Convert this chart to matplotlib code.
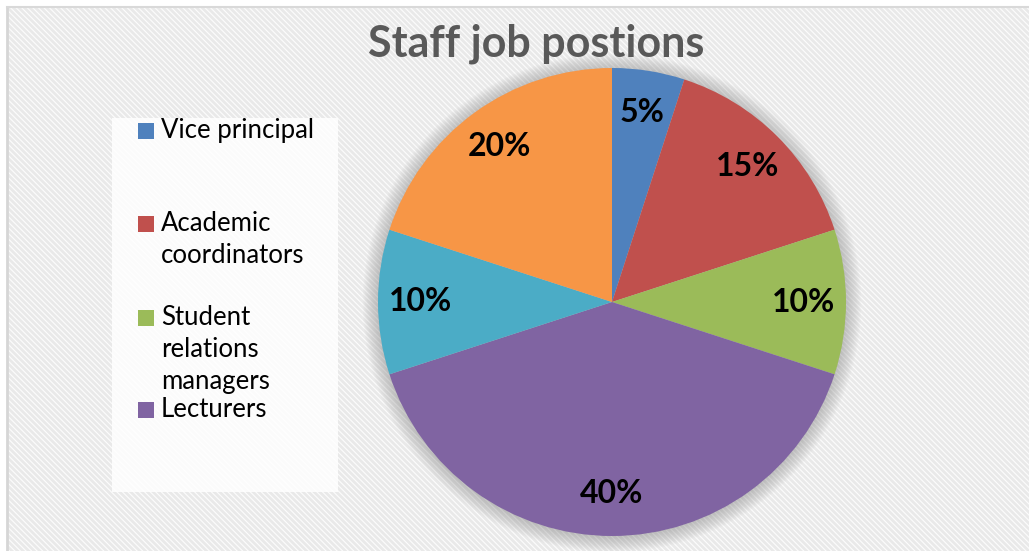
import numpy as np
import matplotlib.pyplot as plt
from matplotlib.patches import Rectangle, Circle
from matplotlib.lines import Line2D

plt.rcParams['font.family'] = ['Lato', 'DejaVu Sans']
plt.rcParams['hatch.color'] = '#e9e9e9'
plt.rcParams['hatch.linewidth'] = 2.0

# Staff job positions (share of staff, %)
legend_labels = ["Vice principal", "Academic\ncoordinators",
                 "Student\nrelations\nmanagers", "Lecturers"]
shares = [5, 15, 10, 40, 10, 20]
colors = ["#4f81bd", "#c0504d", "#9bbb59", "#8064a2", "#4bacc6", "#f79646"]

W, H = 1029, 551
fig = plt.figure(figsize=(W / 100, H / 100), dpi=100)
fig.patch.set_facecolor("white")

# striped chart-area background
bg = Rectangle((7 / W, 0), 1, 1 - 7 / H, transform=fig.transFigure,
               facecolor="#fcfcfc", edgecolor="#e9e9e9", hatch="\\" * 6,
               linewidth=0, zorder=-10)
fig.patches.append(bg)
fig.add_artist(Line2D([7 / W, 7 / W], [0, 1 - 7 / H], color="#d6d6d6", lw=2))
fig.add_artist(Line2D([7 / W, 1], [1 - 7 / H, 1 - 7 / H], color="#d9d9d9", lw=1.5))

# pie axes, centred at (612, 302) px with radius 234 px
cx, cy, r = 612, 302, 234
pad = 1.12
ax = fig.add_axes([(cx - r * pad) / W, (H - cy - r * pad) / H,
                   2 * r * pad / W, 2 * r * pad / H])

wedges, texts = ax.pie(shares, colors=colors, startangle=90, counterclock=False,
                       radius=1, wedgeprops=dict(linewidth=0))
ax.set_xlim(-pad, pad)
ax.set_ylim(-pad, pad)
ax.set_aspect("equal")
ax.axis("off")

# soft shadow around the pie
for k in range(14):
    ax.add_patch(Circle((0, -0.004), 1 + 0.005 * k, color="#808080",
                        alpha=0.035, lw=0, zorder=0))

for w, s in zip(wedges, shares):
    w.set_zorder(2)
    mid = np.deg2rad((w.theta1 + w.theta2) / 2)
    d = 0.82
    ax.text(d * np.cos(mid), d * np.sin(mid), f"{s}%", ha="center", va="center",
            fontsize=23, fontweight="bold", color="black", zorder=3)

# title
fig.text(536 / W, 1 - 44 / H, "Staff job postions", ha="center", va="center",
         fontsize=31, fontweight="bold", color="#595959")

# legend box with the first four categories
fig.patches.append(Rectangle((112 / W, 1 - 492 / H), 226 / W, 374 / H,
                             transform=fig.transFigure, facecolor="white",
                             alpha=0.85, lw=0, zorder=-5))
row_y = [131, 224, 318, 410]
for lab, col, y in zip(legend_labels, colors, row_y):
    fig.patches.append(Rectangle((138 / W, 1 - (y + 8) / H), 16 / W, 16 / H,
                                 transform=fig.transFigure, facecolor=col, lw=0))
    fig.text(161 / W, 1 - (y - 13) / H, lab, ha="left", va="top", fontsize=18.5,
             color="black", linespacing=1.36)

fig.savefig("out.png", dpi=100)
